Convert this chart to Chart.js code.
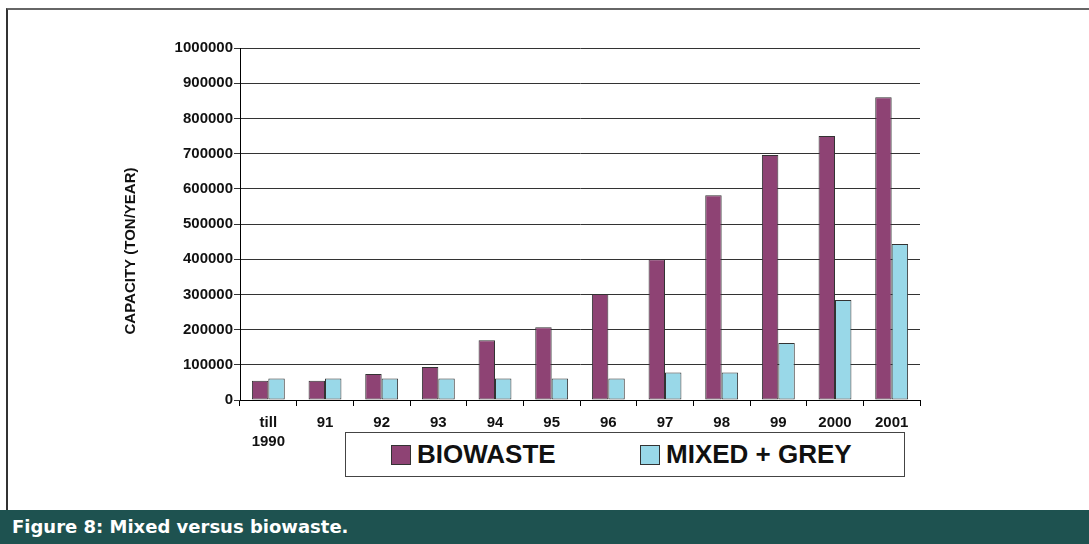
<!DOCTYPE html>
<html>
<head>
<meta charset="utf-8">
<script src="https://cdn.jsdelivr.net/npm/chart.js@4.4.1/dist/chart.umd.min.js"></script>
<style>
    body { margin: 0; width: 1089px; height: 544px; background: #fff; position: relative; overflow: hidden; font-family: "Liberation Sans", Arial, sans-serif; }
    .frame { position: absolute; left: 6px; top: 8px; width: 1100px; height: 502px; border-top: 2px solid #666; border-left: 2px solid #333; box-sizing: border-box; }
    #chart { position: absolute; left: 0; top: 0; }
    .legend { position: absolute; left: 345px; top: 432px; width: 560px; height: 45px; border: 1px solid #444; box-sizing: border-box; background: #fff; }
    .legend .item { position: absolute; top: 0; height: 43px; display: flex; align-items: center; font-weight: bold; font-size: 26px; color: #111; }
    .legend .box { width: 18px; height: 18px; border: 1px solid #333; margin-right: 6px; }
    .caption { position: absolute; left: 0; top: 510px; width: 1089px; height: 34px; background: #1E5250; color: #fff; font-family: "DejaVu Sans", sans-serif; font-weight: bold; font-size: 18px; line-height: 34px; padding-left: 12px; box-sizing: border-box; }
</style>
</head>
<body>
<div class="frame"></div>
<canvas id="chart" width="1089" height="510"></canvas>
<div class="legend" id="legend"></div>
<div class="caption">Figure 8: Mixed versus biowaste.</div>
<script>
const years = [['till', '1990'], '91', '92', '93', '94', '95', '96', '97', '98', '99', '2000', '2001'];
const biowaste = [55000, 55000, 74000, 94000, 170000, 207000, 301000, 400000, 582000, 696000, 750000, 860000];
const mixed = [61000, 61000, 61000, 61000, 61000, 61000, 61000, 78000, 78000, 162000, 284000, 443000];
const series_names = ['BIOWASTE', 'MIXED + GREY'];
const series_colors = ['#8E4374', '#99D8E8'];
const y_title = 'CAPACITY (TON/YEAR)';

const tick_font = { family: '"Liberation Sans", Arial, sans-serif', size: 15, weight: 'bold', lineHeight: 1.3 };

const data = {
    labels: years,
    datasets: [
        { label: series_names[0], data: biowaste, backgroundColor: series_colors[0] },
        { label: series_names[1], data: mixed, backgroundColor: series_colors[1] },
    ].map(d => ({ ...d, borderColor: '#333', borderWidth: 1, borderSkipped: false, barPercentage: 1, categoryPercentage: 0.58 }))
};

// y title sits lower than the plot centre in the original, so draw it by hand
const yTitlePlugin = {
    id: 'yTitle',
    afterDraw(chart) {
        const { ctx, chartArea } = chart;
        ctx.save();
        ctx.translate(131, (chartArea.top + chartArea.bottom) / 2 + 27);
        ctx.rotate(-Math.PI / 2);
        ctx.font = 'bold 15px "Liberation Sans", Arial, sans-serif';
        ctx.fillStyle = '#111';
        ctx.textAlign = 'center';
        ctx.textBaseline = 'middle';
        ctx.fillText(y_title, 0, 0);
        ctx.restore();
    }
};

const config = {
    type: 'bar',
    data: data,
    options: {
        responsive: false,
        animation: false,
        layout: { padding: { left: 124, right: 169, top: 48, bottom: 0 } },
        plugins: { legend: { display: false }, tooltip: { enabled: false } },
        scales: {
            x: {
                afterFit: (s) => { s.height = 110; },
                border: { color: '#000', width: 1 },
                grid: { offset: true, drawOnChartArea: false, drawTicks: true, tickLength: 6, color: '#000' },
                ticks: { color: '#111', font: tick_font, padding: 7, maxRotation: 0 }
            },
            y: {
                min: 0,
                max: 1000000,
                afterFit: (s) => { s.width = 116; },
                border: { color: '#000', width: 1 },
                grid: { color: '#333', lineWidth: 1, tickLength: 6 },
                ticks: { stepSize: 100000, color: '#111', font: tick_font, padding: 1, callback: (v) => String(v) }
            }
        }
    },
    plugins: [yTitlePlugin]
};

new Chart(document.getElementById('chart'), config);

const legend = document.getElementById('legend');
const item_left = [45, 294];
data.datasets.forEach((ds, i) => {
    const el = document.createElement('div');
    el.className = 'item';
    el.style.left = item_left[i] + 'px';
    el.innerHTML = `<span class="box" style="background:${ds.backgroundColor}"></span>${ds.label}`;
    legend.appendChild(el);
});
</script>
</body>
</html>
